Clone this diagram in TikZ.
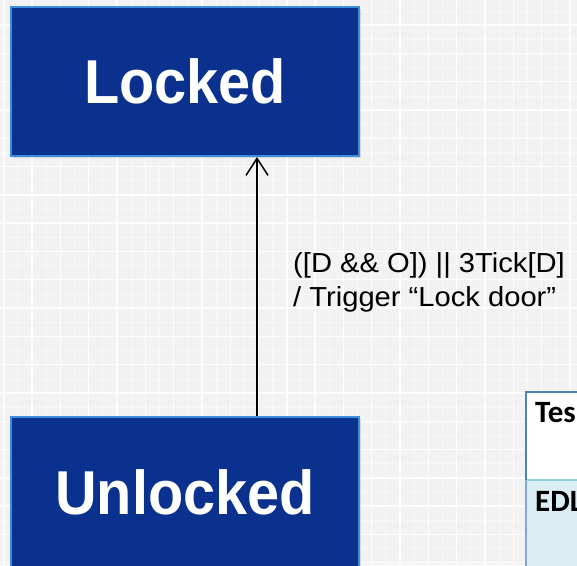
\documentclass[tikz,border=0pt]{standalone}
\usepackage{fontspec}
\setmainfont{Liberation Sans}
\newfontfamily\statefont[FakeStretch=0.93]{Liberation Sans}
\newfontfamily\labelfont[FakeStretch=1.06]{Liberation Sans}
\newfontfamily\tablefont{Carlito}
\usetikzlibrary{arrows.meta,shadows}
\definecolor{bggrey}{RGB}{242,242,242}
\definecolor{boxfill}{RGB}{11,49,143}
\definecolor{boxborder}{RGB}{62,142,222}
\definecolor{tableblue}{RGB}{79,129,189}
\definecolor{tablelightblue}{RGB}{130,166,214}
\definecolor{rowline}{RGB}{146,205,220}
\definecolor{rowfill}{RGB}{218,238,243}
\tikzset{
  gridline/.style={white, line width=1.4pt, opacity=0.9},
  gridfaint/.style={white, line width=0.8pt, opacity=0.4},
  statebox/.style={rectangle, fill=boxfill, draw=boxborder, line width=2pt,
    text=white, font=\statefont\bfseries\fontsize{62}{70}\selectfont,
    minimum width=348pt,
    drop shadow={shadow xshift=2pt, shadow yshift=-2pt, opacity=0.25}},
  trans/.style={draw=black, line width=1.5pt,
    -{Straight Barb[length=17pt, width=22pt, line width=1.5pt]}},
  translabel/.style={inner sep=0pt, align=left,
    font=\labelfont\fontsize{27.5}{34}\selectfont},
  cellhead/.style={rectangle, fill=white, inner xsep=9pt, inner ysep=0pt,
    text width=70pt, align=left, text height=30pt, text depth=58pt,
    font=\tablefont\bfseries\fontsize{31}{36}\selectfont},
  cellbody/.style={rectangle, fill=rowfill, inner xsep=9pt, inner ysep=0pt,
    text width=70pt, align=left, text height=31pt, text depth=80pt,
    font=\tablefont\bfseries\fontsize{31}{36}\selectfont},
  tabline/.style={draw=tableblue, line width=2pt},
  tablelight/.style={draw=tablelightblue, line width=2pt},
  rowsep/.style={draw=rowline, line width=2pt}
}
\begin{document}
\begin{tikzpicture}[x=1pt, y=-1pt]
\useasboundingbox (0,0) rectangle (577,565);
\clip (0,0) rectangle (577,565);
% background grid
\fill[bggrey] (0,0) rectangle (577,565);
\foreach \i in {0,...,21} {
  \draw[gridfaint] (3.8+28.3*\i+14,0) -- ++(0,565);
  \draw[gridfaint] (0,25+28.3*\i-14) -- ++(577,0);
}
\foreach \i in {0,...,21} {
  \draw[gridline] (3.8+28.3*\i,0) -- ++(0,565);
  \draw[gridline] (0,25+28.3*\i-28.3) -- ++(577,0);
}
% states
\node[statebox, minimum height=149pt] (locked) at (185,81.5) {Locked};
\node[statebox, anchor=north, minimum height=0pt, inner ysep=0pt,
      text height=97pt, text depth=93pt] (unlocked) at (185,416) {Unlocked};
% transition
\draw[trans] ([xshift=72pt]unlocked.north) -- ([xshift=72pt]locked.south);
\node[translabel, anchor=base west] (guard) at (293,306)
  {([D \&\& O]) || 3Tick[D]\\/ Trigger “Lock door”};
% table fragment
\node[cellhead, anchor=north west] (testcell) at (526,392) {Tes};
\node[cellbody, anchor=north west] (edlcell) at (526,480) {EDL};
\draw[tablelight] (edlcell.north west) -- (edlcell.south west);
\draw[rowsep] (edlcell.north west) -- (edlcell.north east);
\draw[tabline] (testcell.south west) -- (testcell.north west) -- (testcell.north east);
\end{tikzpicture}
\end{document}
